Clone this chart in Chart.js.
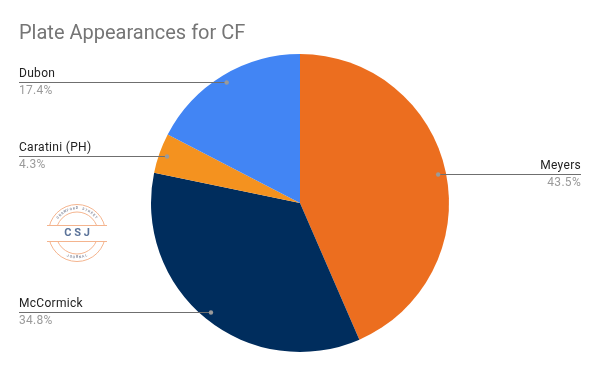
<!DOCTYPE html>
<html>
<head>
<meta charset="utf-8">
<script src="https://cdn.jsdelivr.net/npm/chart.js@4.4.0/dist/chart.umd.min.js"></script>
<style>
html,body{margin:0;padding:0;background:#fff;}
#wrap{width:600px;height:371px;position:relative;}
</style>
</head>
<body>
<div id="wrap"><canvas id="c" width="600" height="371"></canvas></div>
<script>
const titleText = "Plate Appearances for CF";
const players = ["Meyers", "McCormick", "Caratini (PH)", "Dubon"];
const plateAppearances = [10, 8, 1, 4];
const sliceColors = ["#EC6E1F", "#002D5D", "#F4921F", "#4285F4"];

const labelPlugin = {
  id: 'labels',
  afterDraw(chart) {
    const ctx = chart.ctx;
    // title
    ctx.save();
    ctx.font = '20px Roboto';
    ctx.fillStyle = '#757575';
    ctx.textBaseline = 'alphabetic';
    ctx.textAlign = 'left';
    ctx.fillText(titleText, 19, 39);
    ctx.restore();

    const meta = chart.getDatasetMeta(0);
    const total = plateAppearances.reduce((a, b) => a + b, 0);
    meta.data.forEach((arc, i) => {
      const mid = (arc.startAngle + arc.endAngle) / 2;
      const r = arc.outerRadius * 0.947;
      const dx = arc.x + Math.cos(mid) * r;
      const dy = arc.y + Math.sin(mid) * r;
      const right = dx > arc.x;
      const ex = right ? 581 : 19;
      ctx.save();
      ctx.strokeStyle = '#6f6f6f';
      ctx.lineWidth = 1;
      ctx.beginPath();
      ctx.moveTo(dx, Math.round(dy) + 0.5);
      ctx.lineTo(ex, Math.round(dy) + 0.5);
      ctx.stroke();
      ctx.fillStyle = '#9a9a9a';
      ctx.beginPath();
      ctx.arc(dx, Math.round(dy) + 0.5, 2.2, 0, Math.PI * 2);
      ctx.fill();
      ctx.textAlign = right ? 'right' : 'left';
      ctx.textBaseline = 'middle';
      ctx.font = '12px Roboto';
      ctx.letterSpacing = '0.3px';
      ctx.fillStyle = '#222222';
      ctx.fillText(players[i], ex, Math.round(dy) - 8);
      ctx.fillStyle = '#9a9a9a';
      const pct = (plateAppearances[i] / total * 100).toFixed(1) + '%';
      ctx.fillText(pct, ex, Math.round(dy) + 9);
      ctx.restore();
    });

    // watermark logo
    ctx.save();
    const cx = 77, cy = 233;
    ctx.strokeStyle = '#F4B48E';
    ctx.lineWidth = 1;
    ctx.beginPath(); ctx.arc(cx, cy, 28.5, 0, Math.PI * 2); ctx.stroke();
    ctx.beginPath(); ctx.arc(cx, cy, 21, 0, Math.PI * 2); ctx.stroke();
    ctx.fillStyle = '#fff';
    ctx.fillRect(cx - 30, cy - 8, 60, 16);
    ctx.beginPath();
    ctx.moveTo(cx - 30, cy - 8 + 0.5); ctx.lineTo(cx + 30, cy - 8 + 0.5);
    ctx.moveTo(cx - 30, cy + 8 + 0.5); ctx.lineTo(cx + 30, cy + 8 + 0.5);
    ctx.stroke();
    ctx.fillStyle = '#5B7399';
    ctx.font = 'bold 11px Roboto';
    ctx.textAlign = 'center';
    ctx.textBaseline = 'middle';
    ctx.fillText('C S J', cx, cy + 0.5);
    // curved small text
    ctx.font = 'bold 3.5px Roboto';
    ctx.fillStyle = '#8A8FA0';
    const top = 'CRAWFORD STREET';
    const span = 1.9;
    for (let k = 0; k < top.length; k++) {
      const a = -Math.PI / 2 - span / 2 + span * (k + 0.5) / top.length;
      ctx.save();
      ctx.translate(cx + Math.cos(a) * 24.5, cy + Math.sin(a) * 24.5);
      ctx.rotate(a + Math.PI / 2);
      ctx.fillText(top[k], 0, 0);
      ctx.restore();
    }
    const bot = 'JOURNAL';
    const span2 = 0.9;
    for (let k = 0; k < bot.length; k++) {
      const a = Math.PI / 2 + span2 / 2 - span2 * (k + 0.5) / bot.length;
      ctx.save();
      ctx.translate(cx + Math.cos(a) * 24.5, cy + Math.sin(a) * 24.5);
      ctx.rotate(a - Math.PI / 2);
      ctx.fillText(bot[k], 0, 0);
      ctx.restore();
    }
    ctx.restore();
  }
};

new Chart(document.getElementById('c'), {
  type: 'pie',
  data: {
    labels: players,
    datasets: [{
      data: plateAppearances,
      backgroundColor: sliceColors,
      borderColor: '#ffffff',
      borderWidth: 0
    }]
  },
  options: {
    responsive: false,
    animation: false,
    radius: 149,
    layout: { padding: { top: 54, bottom: 19, left: 0, right: 0 } },
    plugins: { legend: { display: false }, tooltip: { enabled: false }, title: { display: false } }
  },
  plugins: [labelPlugin]
});
</script>
</body>
</html>
